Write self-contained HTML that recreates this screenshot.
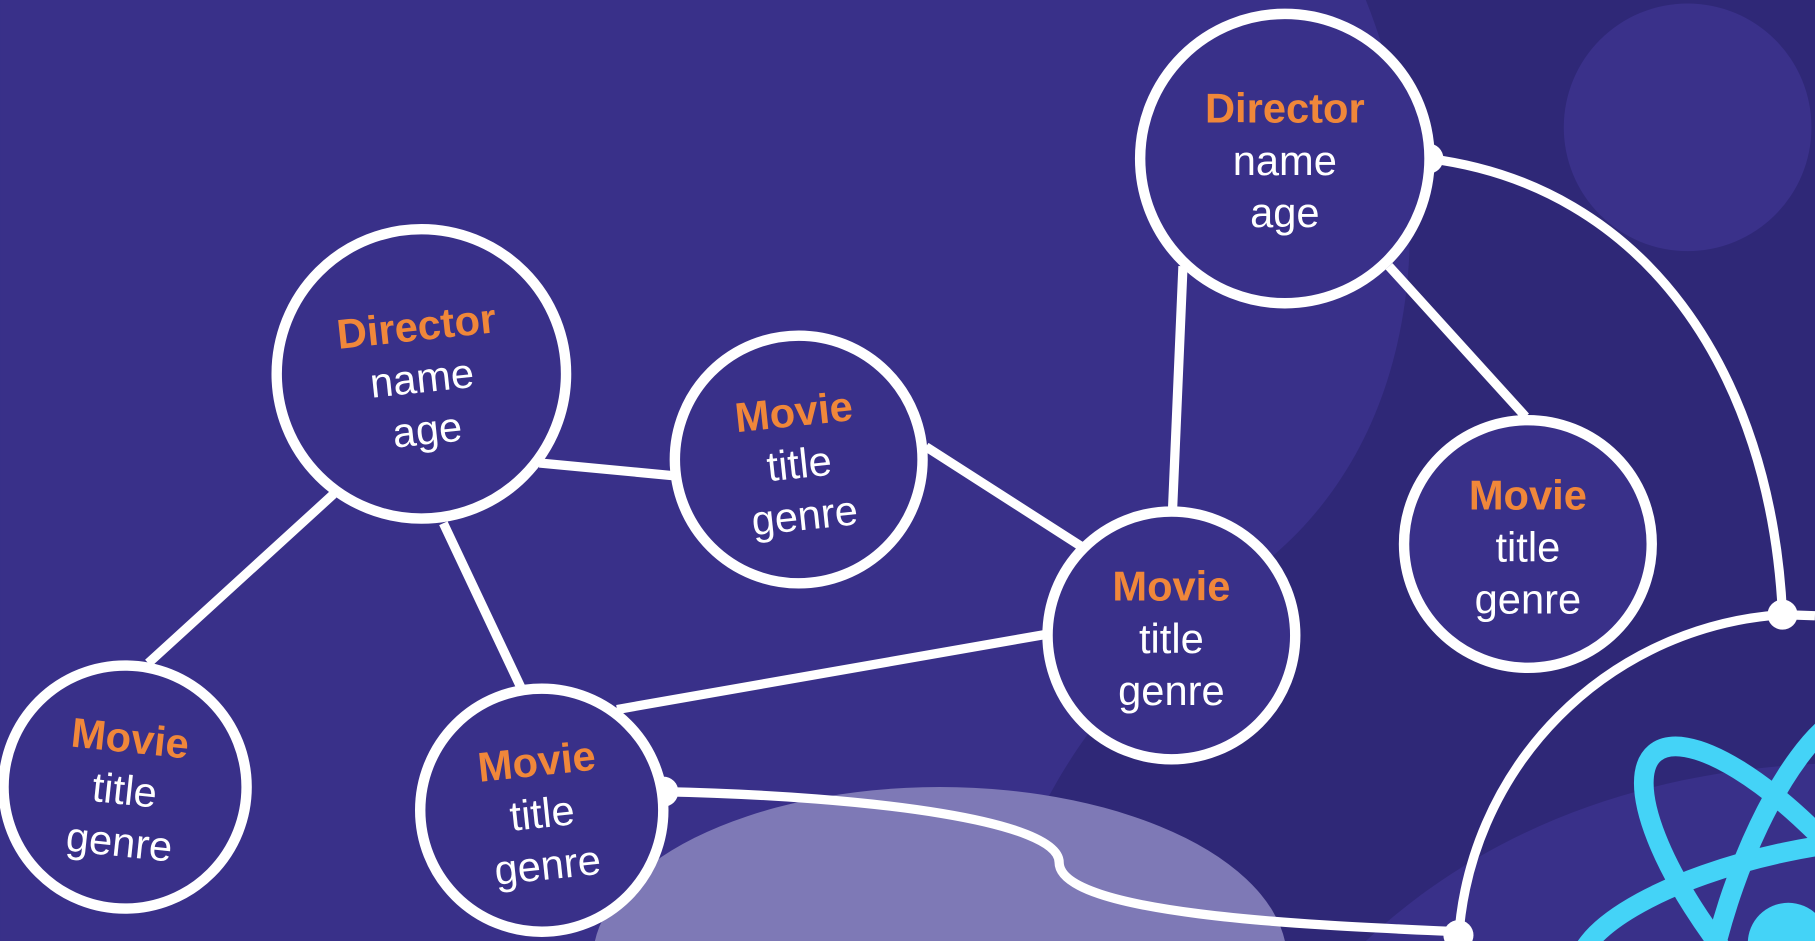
<!DOCTYPE html>
<html><head><meta charset="utf-8"><style>
html,body{margin:0;padding:0;background:#393089;width:1815px;height:941px;overflow:hidden;}
svg{display:block}
text{font-family:"Liberation Sans",Arial,sans-serif;font-size:36px;fill:#fff;text-anchor:middle}
.o{fill:#f0873a;font-weight:bold}
</style></head><body>
<svg width="1815" height="941" viewBox="0 0 1568 813" xmlns="http://www.w3.org/2000/svg">
<rect width="1568" height="813" fill="#393089"/>
<path d="M1180,0 C1240,150 1240,360 1100,480 C1000,560 900,640 860,813 L1568,813 L1568,0 Z" fill="#2f2877"/>
<circle cx="1458" cy="110" r="107" fill="#3a318a"/>
<path d="M1180,813 C1300,700 1450,665 1568,660 L1568,813 Z" fill="#393089"/>
<ellipse cx="812" cy="830" rx="300" ry="150" fill="#7e79b6"/>
<g fill="none" stroke="#fff" stroke-width="8">
<path d="M466,400 L582,411 M288,427 L128,573 M383,452 L450,594 M800,386 L934,472 M533,613 L904,548 M1022,230 L1013,440 M1200,230 L1318,360"/>
<path d="M1234,137 C1420,160 1530,320 1540,531"/>
<path d="M1540,531 L1568,532"/>
<path d="M1540,531 A300,300 0 0 0 1260,813"/>
<path d="M573,684 C760,688 915,710 915,745 C915,792 1150,800 1260,805"/>
</g>
<g fill="#fff">
<circle cx="1234" cy="137" r="13"/><circle cx="1540" cy="531" r="13"/><circle cx="573" cy="684" r="13"/><circle cx="1260" cy="808" r="13"/>
</g>
<g fill="none" stroke="#44d3f7" stroke-width="17">
<ellipse cx="1555" cy="800" rx="195" ry="65" transform="rotate(-12 1555 800)"/>
<ellipse cx="1555" cy="800" rx="195" ry="65" transform="rotate(50 1555 800)"/>
<ellipse cx="1555" cy="800" rx="195" ry="65" transform="rotate(108 1555 800)"/>
</g>
<circle cx="1545" cy="815" r="35" fill="#44d3f7"/>
<g fill="#393089" stroke="#fff" stroke-width="9">
<circle cx="364" cy="323" r="125"/>
<circle cx="690" cy="397" r="107"/>
<circle cx="1110" cy="137" r="125"/>
<circle cx="1012" cy="549" r="107"/>
<circle cx="1320" cy="470" r="107"/>
<circle cx="108" cy="680" r="105"/>
<circle cx="468" cy="700" r="105"/>
</g>
<g transform="rotate(-6 364 323)"><text class="o" x="364" y="294">Director</text><text x="364" y="339">name</text><text x="364" y="384">age</text></g>
<g transform="rotate(-6 690 397)"><text class="o" x="690" y="368">Movie</text><text x="690" y="413">title</text><text x="690" y="458">genre</text></g>
<g><text class="o" x="1110" y="106">Director</text><text x="1110" y="151">name</text><text x="1110" y="196">age</text></g>
<g><text class="o" x="1012" y="519">Movie</text><text x="1012" y="564">title</text><text x="1012" y="609">genre</text></g>
<g><text class="o" x="1320" y="440">Movie</text><text x="1320" y="485">title</text><text x="1320" y="530">genre</text></g>
<g transform="rotate(6 108 680)"><text class="o" x="108" y="650">Movie</text><text x="108" y="695">title</text><text x="108" y="740">genre</text></g>
<g transform="rotate(-6 468 700)"><text class="o" x="468" y="670">Movie</text><text x="468" y="715">title</text><text x="468" y="760">genre</text></g>
</svg>
</body></html>
